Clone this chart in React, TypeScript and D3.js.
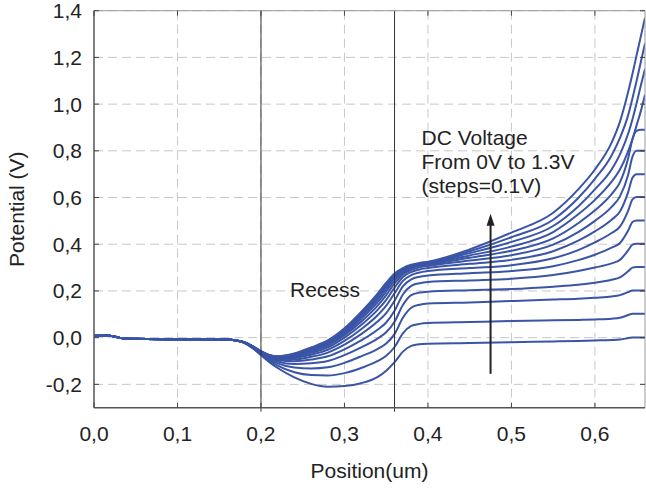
import React from 'react';
import * as d3 from 'd3';

// ---- data ----
const xTicks = [0, 0.1, 0.2, 0.3, 0.4, 0.5, 0.6];
const xTickLabels = ['0,0', '0,1', '0,2', '0,3', '0,4', '0,5', '0,6'];
const yTicks = [-0.2, 0, 0.2, 0.4, 0.6, 0.8, 1.0, 1.2, 1.4];
const yTickLabels = ['-0,2', '0,0', '0,2', '0,4', '0,6', '0,8', '1,0', '1,2', '1,4'];
const regionBounds = [0.2, 0.36];

// shared source segment (all bias values overlap)
const xSource = [0, 0.018, 0.03, 0.04, 0.10, 0.16, 0.17];
const vSource = [0.008, 0.008, 0.0, -0.005, -0.007, -0.008, -0.012];
// per-curve positions
const xRecess = [0.18, 0.19, 0.20, 0.21, 0.22, 0.24, 0.26, 0.28, 0.30, 0.32, 0.34, 0.35, 0.36, 0.37, 0.38, 0.39, 0.40];
const xDrain = [0.45, 0.50, 0.55, 0.58, 0.60, 0.62, 0.63, 0.64, 0.645, 0.65, 0.655, 0.66];

const v00 = [-0.022, -0.045, -0.075, -0.105, -0.13, -0.17, -0.198, -0.21, -0.207, -0.195, -0.168, -0.142, -0.105, -0.06, -0.035, -0.028, -0.026, -0.023, -0.02, -0.016, -0.014, -0.012, -0.01, -0.008, -0.002, 0.001, 0.001, 0.001, 0.001];
const v01 = [-0.022, -0.044, -0.072, -0.098, -0.12, -0.148, -0.16, -0.162, -0.152, -0.13, -0.1, -0.078, -0.04, 0.018, 0.05, 0.059, 0.063, 0.067, 0.071, 0.074, 0.076, 0.078, 0.081, 0.085, 0.097, 0.102, 0.102, 0.102, 0.102];
const v02 = [-0.022, -0.043, -0.07, -0.093, -0.11, -0.128, -0.132, -0.127, -0.108, -0.08, -0.048, -0.025, 0.015, 0.085, 0.128, 0.141, 0.146, 0.151, 0.157, 0.163, 0.167, 0.171, 0.176, 0.182, 0.195, 0.202, 0.202, 0.202, 0.202];
const v03 = [-0.021, -0.042, -0.068, -0.088, -0.102, -0.113, -0.11, -0.1, -0.075, -0.042, -0.003, 0.023, 0.068, 0.14, 0.182, 0.193, 0.197, 0.203, 0.208, 0.218, 0.226, 0.235, 0.248, 0.258, 0.285, 0.3, 0.303, 0.303, 0.303];
const v04 = [-0.021, -0.041, -0.066, -0.085, -0.096, -0.101, -0.094, -0.08, -0.05, -0.012, 0.035, 0.065, 0.115, 0.185, 0.222, 0.233, 0.238, 0.245, 0.252, 0.268, 0.285, 0.3, 0.318, 0.333, 0.375, 0.398, 0.402, 0.402, 0.402];
const v05 = [-0.02, -0.04, -0.064, -0.082, -0.092, -0.093, -0.082, -0.064, -0.03, 0.015, 0.07, 0.105, 0.158, 0.22, 0.25, 0.261, 0.266, 0.276, 0.285, 0.306, 0.332, 0.355, 0.385, 0.405, 0.46, 0.495, 0.502, 0.502, 0.502];
const v06 = [-0.02, -0.039, -0.063, -0.08, -0.089, -0.087, -0.073, -0.052, -0.014, 0.036, 0.097, 0.137, 0.19, 0.243, 0.268, 0.279, 0.285, 0.298, 0.31, 0.34, 0.375, 0.408, 0.448, 0.475, 0.545, 0.592, 0.602, 0.602, 0.602];
const v07 = [-0.02, -0.039, -0.062, -0.079, -0.087, -0.082, -0.065, -0.042, 0.0, 0.054, 0.12, 0.162, 0.214, 0.26, 0.281, 0.292, 0.298, 0.316, 0.333, 0.37, 0.415, 0.455, 0.505, 0.54, 0.625, 0.685, 0.7, 0.7, 0.7];
const v08 = [-0.02, -0.038, -0.061, -0.078, -0.085, -0.078, -0.058, -0.034, 0.01, 0.068, 0.138, 0.182, 0.232, 0.272, 0.29, 0.301, 0.307, 0.33, 0.353, 0.398, 0.452, 0.5, 0.56, 0.605, 0.7, 0.775, 0.8, 0.8, 0.8];
const v09 = [-0.02, -0.038, -0.06, -0.077, -0.084, -0.075, -0.053, -0.028, 0.018, 0.08, 0.153, 0.198, 0.245, 0.28, 0.297, 0.308, 0.313, 0.342, 0.372, 0.425, 0.49, 0.545, 0.615, 0.665, 0.77, 0.85, 0.885, 0.89, 0.89];
const v10 = [-0.019, -0.037, -0.06, -0.076, -0.083, -0.073, -0.049, -0.023, 0.025, 0.089, 0.165, 0.21, 0.256, 0.286, 0.302, 0.312, 0.317, 0.352, 0.39, 0.452, 0.528, 0.59, 0.668, 0.72, 0.8, 0.85, 0.91, 0.97, 1.04];
const v11 = [-0.019, -0.037, -0.059, -0.075, -0.082, -0.071, -0.046, -0.019, 0.031, 0.097, 0.175, 0.22, 0.264, 0.291, 0.306, 0.315, 0.32, 0.362, 0.41, 0.478, 0.562, 0.635, 0.72, 0.785, 0.875, 0.935, 1.005, 1.08, 1.15];
const v12 = [-0.019, -0.036, -0.059, -0.075, -0.081, -0.069, -0.044, -0.015, 0.036, 0.104, 0.183, 0.228, 0.27, 0.295, 0.309, 0.318, 0.323, 0.37, 0.43, 0.505, 0.598, 0.68, 0.78, 0.855, 0.955, 1.025, 1.1, 1.18, 1.26];
const v13 = [-0.019, -0.036, -0.058, -0.074, -0.08, -0.068, -0.042, -0.012, 0.04, 0.11, 0.19, 0.235, 0.275, 0.298, 0.312, 0.32, 0.325, 0.378, 0.45, 0.535, 0.635, 0.72, 0.835, 0.925, 1.055, 1.13, 1.21, 1.29, 1.37];
const series = [v00, v01, v02, v03, v04, v05, v06, v07, v08, v09, v10, v11, v12, v13];

const arrowFrom = [0.475, -0.155];
const arrowTo = [0.475, 0.53];

// ---- layout ----
const W = 646, H = 488;
const L = 94, R = 645, T = 10.7, B = 407.7;
const FONT = '"Liberation Sans", Arial, Helvetica, sans-serif';

export default function App() {
  const x = d3.scaleLinear().domain([0, 0.66]).range([L, R]);
  const y = d3.scaleLinear().domain([-0.3, 1.4]).range([B, T]);
  const xs = [...xSource, ...xRecess, ...xDrain];
  const line = d3.line<[number, number]>()
    .x(d => x(d[0]))
    .y(d => y(d[1]))
    .curve(d3.curveMonotoneX);
  const paths = series.map(s => {
    const vals = [...vSource, ...s];
    return line(xs.map((xv, i) => [xv, vals[i]] as [number, number]));
  });
  const ax = x(arrowFrom[0]);
  const ay0 = y(arrowFrom[1]);
  const ay1 = y(arrowTo[1]);
  const textColor = '#222';
  return (
    <div style={{ position: 'absolute', left: 0, top: 0 }}>
      <svg width={W} height={H} style={{ display: 'block', background: '#fff' }}>
        <defs>
          <clipPath id="plotclip">
            <rect x={L} y={T} width={R - L} height={B - T} />
          </clipPath>
        </defs>
        {/* grid */}
        {xTicks.slice(1).map(t => (
          <line key={'gx' + t} x1={x(t)} x2={x(t)} y1={T} y2={B} stroke="#c8c8c8" strokeWidth={1} strokeDasharray="9,5" />
        ))}
        {yTicks.map(t => (
          <line key={'gy' + t} x1={L} x2={R} y1={y(t)} y2={y(t)} stroke="#c8c8c8" strokeWidth={1} strokeDasharray="9,5" />
        ))}
        {/* curves */}
        <g clipPath="url(#plotclip)">
          {paths.map((p, i) => (
            <path key={'c' + i} d={p || ''} fill="none" stroke="#3a54a6" strokeWidth={2} />
          ))}
        </g>
        {/* region bounds */}
        {regionBounds.map(b => (
          <line key={'rb' + b} x1={x(b)} x2={x(b)} y1={T} y2={B + 4} stroke="#333" strokeWidth={1} />
        ))}
        {/* frame */}
        <line x1={L} x2={R} y1={T} y2={T} stroke="#999" strokeWidth={1} />
        <line x1={R} x2={R} y1={T} y2={B} stroke="#999" strokeWidth={1} />
        <line x1={L} x2={L} y1={T} y2={B} stroke="#555" strokeWidth={1.5} />
        <line x1={L} x2={R} y1={B} y2={B} stroke="#555" strokeWidth={1.5} />
        {/* ticks */}
        {xTicks.map(t => (
          <g key={'xt' + t}>
            <line x1={x(t)} x2={x(t)} y1={B} y2={B - 5} stroke="#444" strokeWidth={1} />
            <line x1={x(t)} x2={x(t)} y1={T} y2={T + 5} stroke="#444" strokeWidth={1} />
          </g>
        ))}
        {yTicks.map(t => (
          <g key={'yt' + t}>
            <line x1={L} x2={L + 5} y1={y(t)} y2={y(t)} stroke="#444" strokeWidth={1} />
            <line x1={R} x2={R - 5} y1={y(t)} y2={y(t)} stroke="#444" strokeWidth={1} />
          </g>
        ))}
        {/* tick labels */}
        {xTicks.map((t, i) => (
          <text key={'xl' + t} x={x(t)} y={441} textAnchor="middle" fontFamily={FONT} fontSize={21} fill={textColor}>{xTickLabels[i]}</text>
        ))}
        {yTicks.map((t, i) => (
          <text key={'yl' + t} x={82} y={y(t)} dy="0.36em" textAnchor="end" fontFamily={FONT} fontSize={21} fill={textColor}>{yTickLabels[i]}</text>
        ))}
        {/* axis titles */}
        <text x={(L + R) / 2} y={478} textAnchor="middle" fontFamily={FONT} fontSize={21} fill={textColor}>Position(um)</text>
        <text transform={`translate(24, ${(T + B) / 2}) rotate(-90)`} textAnchor="middle" fontFamily={FONT} fontSize={21} fill={textColor}>Potential (V)</text>
        {/* annotations */}
        <text x={290} y={297} fontFamily={FONT} fontSize={21} fill={textColor}>Recess</text>
        <text x={421.5} y={145} fontFamily={FONT} fontSize={21} fill={textColor}>DC Voltage</text>
        <text x={421.5} y={169} fontFamily={FONT} fontSize={21} fill={textColor}>From 0V to 1.3V</text>
        <text x={421.5} y={193} fontFamily={FONT} fontSize={21} fill={textColor}>(steps=0.1V)</text>
        {/* arrow */}
        <line x1={ax} x2={ax} y1={ay0} y2={ay1 + 8} stroke="#222" strokeWidth={2} />
        <path d={`M${ax},${ay1} L${ax - 4},${ay1 + 12} L${ax + 4},${ay1 + 12} Z`} fill="#222" />
      </svg>
    </div>
  );
}
